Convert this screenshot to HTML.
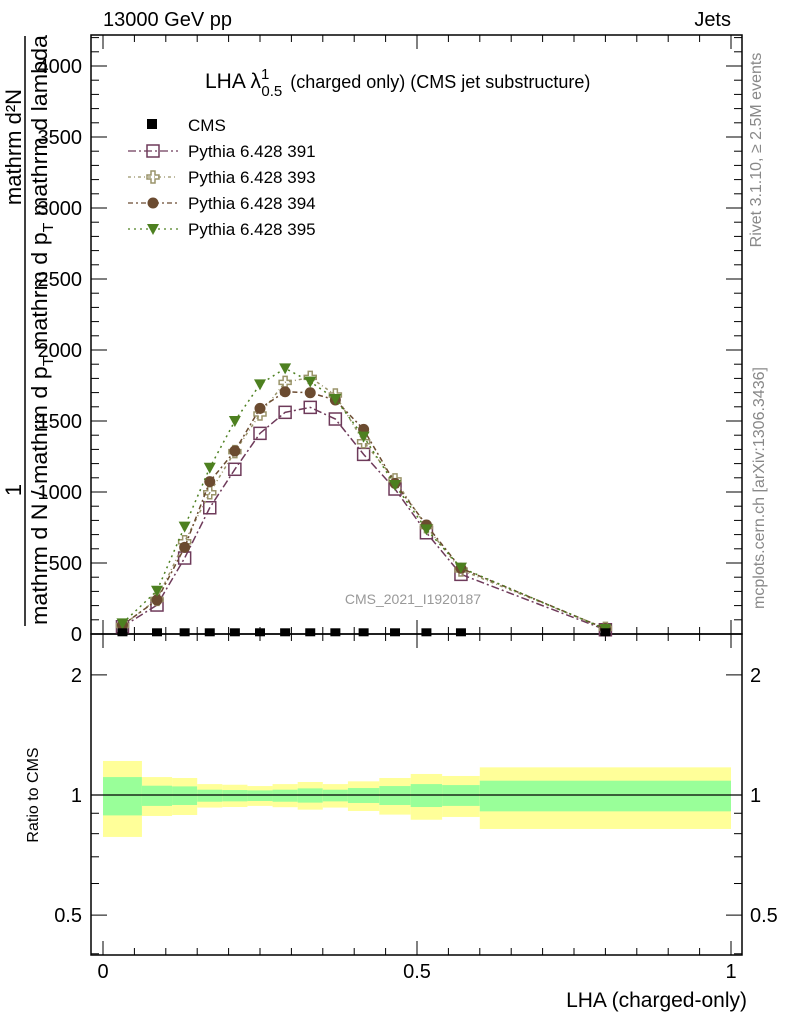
<!DOCTYPE html>
<html><head><meta charset="utf-8"><style>
html,body{margin:0;padding:0;background:#fff;}
svg{display:block;font-family:"Liberation Sans",Arial,sans-serif;}
</style></head><body>
<svg id="chart" width="786" height="1024" viewBox="0 0 786 1024">
<g id="bands"></g>
<g id="axes"></g>
<g id="series"></g>
<text x="103" y="26" font-size="20">13000 GeV pp</text>
<text x="731" y="26" font-size="20" text-anchor="end">Jets</text>
<text x="205" y="88" font-size="21">LHA λ<tspan font-size="15" dy="-9">1</tspan><tspan font-size="15" dx="-8" dy="17">0.5</tspan><tspan font-size="18" dy="-8" dx="3"> (charged only) (CMS jet substructure)</tspan></text>
<g font-size="17">
<rect x="147" y="119" width="10" height="10" fill="#000"/>
<text x="188" y="131">CMS</text>
<text x="188" y="157">Pythia 6.428 391</text>
<text x="188" y="183">Pythia 6.428 393</text>
<text x="188" y="209">Pythia 6.428 394</text>
<text x="188" y="235">Pythia 6.428 395</text>
</g>
<text x="413" y="604" font-size="14" fill="#999" text-anchor="middle">CMS_2021_I1920187</text>
<text transform="translate(761,150) rotate(-90)" font-size="16" fill="#888" text-anchor="middle">Rivet 3.1.10, ≥ 2.5M events</text>
<text transform="translate(764,488) rotate(-90)" font-size="16" fill="#888" text-anchor="middle">mcplots.cern.ch [arXiv:1306.3436]</text>
<g font-size="22">
<text transform="translate(21,147) rotate(-90)" text-anchor="middle">mathrm d²N</text>
<text transform="translate(21,490) rotate(-90)" text-anchor="middle">1</text>
<line x1="25" y1="36" x2="25" y2="626" stroke="#000" stroke-width="1.5"/>
<text transform="translate(47,330) rotate(-90)" text-anchor="middle" textLength="590" lengthAdjust="spacingAndGlyphs">mathrm d N / mathrm d p<tspan font-size="15" dy="6">T</tspan><tspan dy="-6"> mathrm d p</tspan><tspan font-size="15" dy="6">T</tspan><tspan dy="-6"> mathrm d lambda</tspan></text>
</g>
<text transform="translate(38,795) rotate(-90)" font-size="16" text-anchor="middle">Ratio to CMS</text>
<text x="747" y="1007" font-size="21" text-anchor="end">LHA (charged-only)</text>
</svg>
<script>
const binEdges=[0,0.062,0.11,0.15,0.19,0.23,0.27,0.31,0.35,0.39,0.44,0.49,0.54,0.6,1.0];
const xMid=[0.031,0.086,0.13,0.17,0.21,0.25,0.29,0.33,0.37,0.415,0.465,0.515,0.57,0.8];
const cmsVals=[12,12,12,12,12,12,12,12,12,12,12,12,12,12];
const s391=[51,204,535,889,1160,1413,1561,1596,1514,1265,1021,713,420,30];
const s393=[60,244,650,995,1284,1549,1772,1807,1683,1354,1085,756,451,40];
const s394=[63,239,610,1073,1289,1589,1706,1699,1648,1441,1061,768,463,38];
const s395=[75,305,756,1171,1500,1758,1871,1777,1655,1390,1049,737,467,35];
const yelHi=[1.217,1.109,1.103,1.065,1.061,1.053,1.065,1.078,1.065,1.082,1.103,1.129,1.116,1.173];
const yelLo=[0.785,0.886,0.891,0.930,0.933,0.939,0.932,0.919,0.930,0.912,0.893,0.867,0.881,0.822];
const grnHi=[1.109,1.055,1.051,1.031,1.029,1.027,1.031,1.039,1.031,1.041,1.053,1.065,1.059,1.086];
const grnLo=[0.889,0.939,0.944,0.962,0.964,0.966,0.962,0.957,0.964,0.955,0.944,0.933,0.939,0.910];
const mainTicks=[0,500,1000,1500,2000,2500,3000,3500,4000];
const ratioTicks=[0.5,1,2];
const xTicks=[0,0.5,1];

const NS="http://www.w3.org/2000/svg";
const L=91,R=742,T=35,MB=634,RB=955;
const X=v=>103+628*v;
const Y=v=>634-v*0.142;
const YR=r=>795-399*Math.log10(r);
function mk(tag,attrs,parent){const e=document.createElementNS(NS,tag);for(const k in attrs)e.setAttribute(k,attrs[k]);parent.appendChild(e);return e;}
const bands=document.getElementById('bands'),axes=document.getElementById('axes'),ser=document.getElementById('series');

for(let i=0;i<xMid.length;i++){
  const x0=X(binEdges[i]),x1=X(binEdges[i+1]);
  const y=mk('rect',{x:x0,y:YR(yelHi[i]),width:x1-x0,height:YR(yelLo[i])-YR(yelHi[i]),fill:'#ffff99'},bands);
  
  
  const g=mk('rect',{x:x0,y:YR(grnHi[i]),width:x1-x0,height:YR(grnLo[i])-YR(grnHi[i]),fill:'#99ff99'},bands);
  
  
}
mk('line',{x1:L,x2:R,y1:YR(1),y2:YR(1),stroke:'#000','stroke-width':1.2},axes);

mk('rect',{x:L,y:T,width:R-L,height:MB-T,fill:'none',stroke:'#000','stroke-width':1.5},axes);
mk('rect',{x:L,y:MB,width:R-L,height:RB-MB,fill:'none',stroke:'#000','stroke-width':1.5},axes);
for(let v=0;v<=1.0001;v+=0.05){
  const big=Math.abs(v*10-Math.round(v*10))<1e-6 && Math.round(v*10)%5==0;
  const len=big?14:7;
  for(const yb of [MB,RB]){mk('line',{x1:X(v),x2:X(v),y1:yb,y2:yb-len,stroke:'#000'},axes);}
  for(const yt of [T,MB]){mk('line',{x1:X(v),x2:X(v),y1:yt,y2:yt+len,stroke:'#000'},axes);}
}
xTicks.forEach(v=>{const t=mk('text',{x:X(v),y:978,'font-size':20,'text-anchor':'middle'},axes);t.textContent=String(v);

});
for(let v=0;v<=4200;v+=100){const len=(v%500==0)?16:8;
  mk('line',{x1:L,x2:L+len,y1:Y(v),y2:Y(v),stroke:'#000'},axes);
  mk('line',{x1:R,x2:R-len,y1:Y(v),y2:Y(v),stroke:'#000'},axes);}
mainTicks.forEach(v=>{const t=mk('text',{x:82,y:Y(v)+7,'font-size':20,'text-anchor':'end'},axes);t.textContent=String(v);

});
const minor=[0.4,0.5,0.6,0.7,0.8,0.9,1,2];
minor.forEach(r=>{const big=ratioTicks.includes(r);const len=big?16:8;
  mk('line',{x1:L,x2:L+len,y1:YR(r),y2:YR(r),stroke:'#000'},axes);
  mk('line',{x1:R,x2:R-len,y1:YR(r),y2:YR(r),stroke:'#000'},axes);});
ratioTicks.forEach(r=>{
  const t=mk('text',{x:82,y:YR(r)+7,'font-size':20,'text-anchor':'end'},axes);t.textContent=String(r);
  
  
  const t2=mk('text',{x:750,y:YR(r)+7,'font-size':20},axes);t2.textContent=String(r);
  
  });

function marker(type,x,y,c,p){
  let e;
  if(type==='sq') e=mk('rect',{x:x-6,y:y-6,width:12,height:12,fill:'none',stroke:c,'stroke-width':1.5},p);
  else if(type==='cross') e=mk('path',{d:`M${x-2},${y-6}h4v4h4v4h-4v4h-4v-4h-4v-4h4z`,fill:'none',stroke:c,'stroke-width':1.5},p);
  else if(type==='circ') e=mk('circle',{cx:x,cy:y,r:5.5,fill:c},p);
  else if(type==='tri') e=mk('path',{d:`M${x-6},${y-5}h12l-6,11z`,fill:c},p);
  else e=mk('rect',{x:x-5,y:y-4,width:10,height:8,fill:c},p);
  return e;
}
const series=[
 {name:'pythia-391',vals:s391,c:'#6e3a5a',m:'sq',dash:'8,3,2,3'},
 {name:'pythia-393',vals:s393,c:'#9a946a',m:'cross',dash:'3,3,1,3'},
 {name:'pythia-394',vals:s394,c:'#6b4b30',m:'circ',dash:'5,3,2,3'},
 {name:'pythia-395',vals:s395,c:'#4d8020',m:'tri',dash:'2,4'}
];
series.forEach((s,k)=>{
  const g=mk('g',{},ser);
  
  
  const pts=xMid.map((x,i)=>X(x)+','+Y(s.vals[i])).join(' ');
  mk('polyline',{points:pts,fill:'none',stroke:s.c,'stroke-width':1.5,'stroke-dasharray':s.dash},g);
  xMid.forEach((x,i)=>{const e=marker(s.m,X(x),Y(s.vals[i]),s.c,g);
    
    });
  const ly=151+26*k;
  mk('line',{x1:128,x2:178,y1:ly,y2:ly,stroke:s.c,'stroke-width':1.2,'stroke-dasharray':s.dash},g);
  const lm=marker(s.m,153,ly,s.c,g);
  
  
});
const cg=mk('g',{},ser);


xMid.forEach((x,i)=>{const e=marker('cms',X(x),Y(cmsVals[i]),'#000',cg);
  
  });
</script>
</body></html>
